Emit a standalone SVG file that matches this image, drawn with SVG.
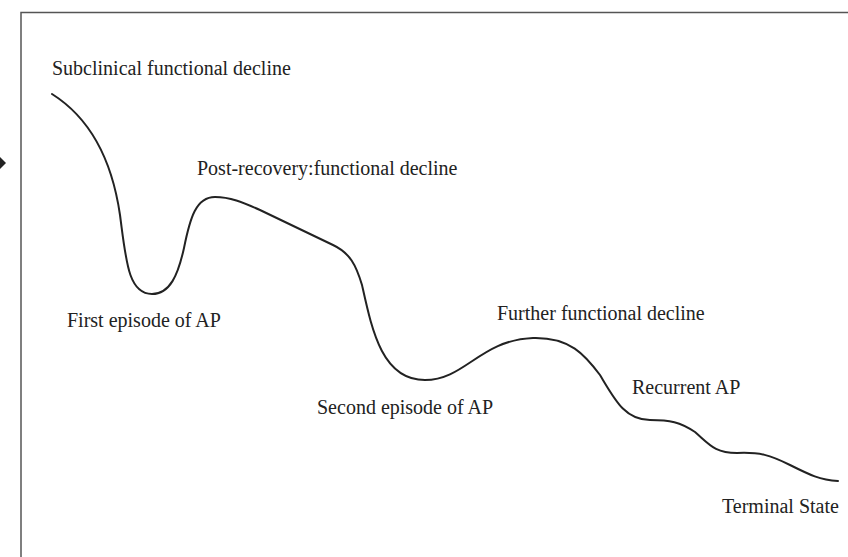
<svg xmlns="http://www.w3.org/2000/svg" width="848" height="557" viewBox="0 0 848 557">
<style>
.lbl{font-family:"Liberation Serif","Times New Roman",serif;font-size:20px;fill:#222}
.frame{fill:none;stroke:#555;stroke-width:1.5}
.curve{fill:none;stroke:#222;stroke-width:2;stroke-linecap:round;stroke-linejoin:round}
</style>
<rect width="848" height="557" fill="#fff"/>
<g id="frame">
<path class="frame" d="M21,557 V12.5 H848"/>
<polygon points="0,157 6,163 0,169" fill="#222"/>
</g>
<g id="connectors">
<path id="trajectory" class="curve" d="M52,94 C90,118 112,160 120,215 C126,260 128,294 152,294 C170,294 178,275 184,248 C190,218 196,197 215,197 C230,197 242,202 260,210 L333,245 C350,253 356,265 362,285 C372,330 382,380 425,380 C465,380 480,340 533,338 C570,337 585,355 600,375 C615,400 625,420 650,420 C670,420 680,422 695,432 C710,445 715,453 737,453 C760,452 770,455 790,465 C810,475 820,480 838,481"/>
</g>
<g id="n-subclinical"><text class="lbl" x="52" y="75">Subclinical functional decline</text></g>
<g id="n-post-recovery"><text class="lbl" x="197" y="175">Post-recovery:functional decline</text></g>
<g id="n-first-ap"><text class="lbl" x="67" y="327">First episode of AP</text></g>
<g id="n-further"><text class="lbl" x="497" y="320">Further functional decline</text></g>
<g id="n-second-ap"><text class="lbl" x="317" y="414">Second episode of AP</text></g>
<g id="n-recurrent"><text class="lbl" x="632" y="394">Recurrent AP</text></g>
<g id="n-terminal"><text class="lbl" x="722" y="513">Terminal State</text></g>
</svg>
